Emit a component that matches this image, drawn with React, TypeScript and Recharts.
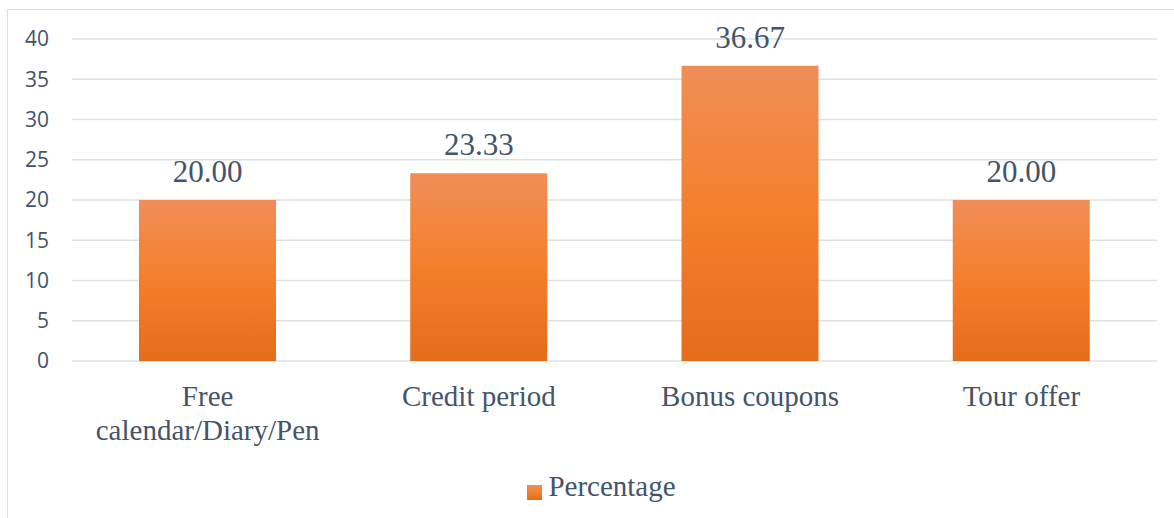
import { BarChart, Bar, XAxis, YAxis, CartesianGrid, Legend, LabelList } from 'recharts';

// categories and values
const categories = ['Free calendar/Diary/Pen', 'Credit period', 'Bonus coupons', 'Tour offer'];
const percentages = [20.0, 23.33, 36.67, 20.0];
const yTicks = [0, 5, 10, 15, 20, 25, 30, 35, 40];

const data = categories.map((name, i) => ({ name, Percentage: percentages[i] }));

const TEXT = '#44546a';
const SERIF = '"Liberation Serif", "Times New Roman", serif';
const SANS = '"Open Sans", "Noto Sans", sans-serif';
const LABEL_FONT = `29px ${SERIF}`;
const MAX_LABEL_W = 240;

// greedy word wrap, measured with canvas so it matches the drawn font
const wrapLabel = (label: string): string[] => {
    const ctx = document.createElement('canvas').getContext('2d');
    const measure = (s: string) => {
        if (!ctx) return s.length * 13;
        ctx.font = LABEL_FONT;
        return ctx.measureText(s).width;
    };
    const lines: string[] = [];
    let cur = '';
    for (const word of label.split(' ')) {
        const next = cur ? cur + ' ' + word : word;
        if (cur && measure(next) > MAX_LABEL_W) {
            lines.push(cur);
            cur = word;
        } else {
            cur = next;
        }
    }
    if (cur) lines.push(cur);
    return lines;
};

const CategoryTick = (props: any) => {
    const { x, y, payload } = props;
    const lines = wrapLabel(String(payload.value));
    return (
        <text x={x} y={y} textAnchor="middle" fill={TEXT} style={{ fontFamily: SERIF, fontSize: 29 }}>
            {lines.map((line, i) => (
                <tspan key={i} x={x} dy={i === 0 ? '0.71em' : 34}>
                    {line}
                </tspan>
            ))}
        </text>
    );
};

export default function App() {
    return (
        <div style={{ position: 'absolute', left: 0, top: 0, width: 1174, height: 518, background: '#fff', overflow: 'hidden' }}>
            {/* chart frame, runs off the right and bottom edge like the cropped original */}
            <div style={{ position: 'absolute', left: 7, top: 9, width: 1200, height: 540, border: '1.5px solid #dadee4', boxSizing: 'border-box' }} />
            <BarChart
                width={1174}
                height={518}
                data={data}
                margin={{ top: 39, right: 17, left: 0, bottom: 0 }}
                style={{ position: 'absolute', left: 0, top: 0 }}
            >
                <defs>
                    {/* light at the top, deeper orange at the base */}
                    <linearGradient id="barFill" x1="0" y1="0" x2="0" y2="1">
                        <stop offset="0%" stopColor="#f08e58" />
                        <stop offset="50%" stopColor="#f47f2b" />
                        <stop offset="100%" stopColor="#e46c1b" />
                    </linearGradient>
                </defs>

                <CartesianGrid vertical={false} stroke="#dde1e7" strokeWidth={1.5} />

                <XAxis
                    dataKey="name"
                    axisLine={false}
                    tickLine={false}
                    tickMargin={18}
                    height={125}
                    interval={0}
                    tick={<CategoryTick />}
                />

                <YAxis
                    domain={[0, 40]}
                    ticks={yTicks}
                    width={72}
                    axisLine={false}
                    tickLine={false}
                    tickMargin={17}
                    tick={{ fontSize: 21, fill: TEXT, fontFamily: SANS }}
                />

                <Legend
                    verticalAlign="bottom"
                    iconType="square"
                    iconSize={15}
                    wrapperStyle={{ top: 470, left: 28, height: 32, lineHeight: '32px' }}
                    formatter={(value: string) => (
                        <span style={{ color: TEXT, fontFamily: SERIF, fontSize: 29, marginLeft: 2 }}>{value}</span>
                    )}
                />

                <Bar dataKey="Percentage" fill="url(#barFill)" barSize={137} isAnimationActive={false}>
                    <LabelList
                        dataKey="Percentage"
                        position="top"
                        offset={18}
                        formatter={(v: any) => Number(v).toFixed(2)}
                        fill={TEXT}
                        style={{ fontFamily: SERIF, fontSize: 31 }}
                    />
                </Bar>
            </BarChart>
        </div>
    );
}
